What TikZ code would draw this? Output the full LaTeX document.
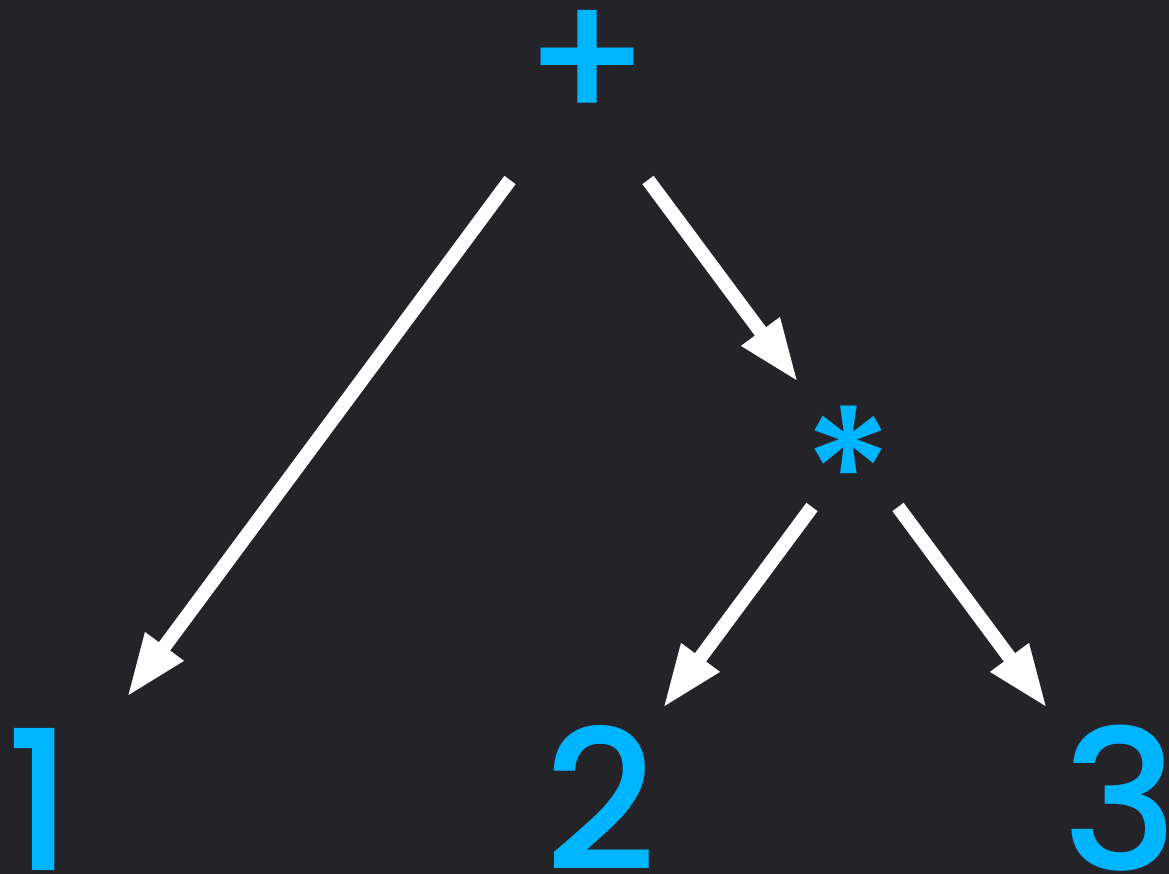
\documentclass[tikz,border=0pt]{standalone}
\usepackage{fontspec}
\setmainfont{Poppins}
\newfontfamily\symfont{Poppins Medium}
\usetikzlibrary{arrows.meta}
\definecolor{bgdark}{RGB}{35,35,40}
\definecolor{symblue}{RGB}{0,181,255}
\tikzset{
  sym/.style={text=symblue, inner sep=0pt, outer sep=0pt, font=\symfont\fontsize{195}{195}\selectfont},
  edge/.style={draw=white, line width=14pt, line cap=butt, -{Triangle[length=63pt,width=44pt]}}
}
\begin{document}
\begin{tikzpicture}[x=1pt,y=-1pt]
\fill[bgdark] (0,0) rectangle (1169,874);
\useasboundingbox (0,0) rectangle (1169,874);
% symbols
\node[sym, font=\symfont\fontsize{182}{182}\selectfont] (plus) at (587,66) {+};
\node[sym, font=\symfont\fontsize{180}{180}\selectfont] (star) at (849,472) {*};
\node[sym, anchor=base] (one) at (40,870) {1};
\node[sym, anchor=base] (two) at (601,870) {2};
\node[sym, anchor=base] (three) at (1120,870) {3};
% connector end points
\coordinate (p1s) at (510,180);
\coordinate (p1e) at (127,697);
\coordinate (p2s) at (648,180);
\coordinate (p2e) at (798,382);
\coordinate (s1s) at (812,507);
\coordinate (s1e) at (663,708);
\coordinate (s2s) at (898,507);
\coordinate (s2e) at (1047,708);
\draw[edge] (p1s) -- (p1e);
\draw[edge] (p2s) -- (p2e);
\draw[edge] (s1s) -- (s1e);
\draw[edge] (s2s) -- (s2e);
\end{tikzpicture}
\end{document}
